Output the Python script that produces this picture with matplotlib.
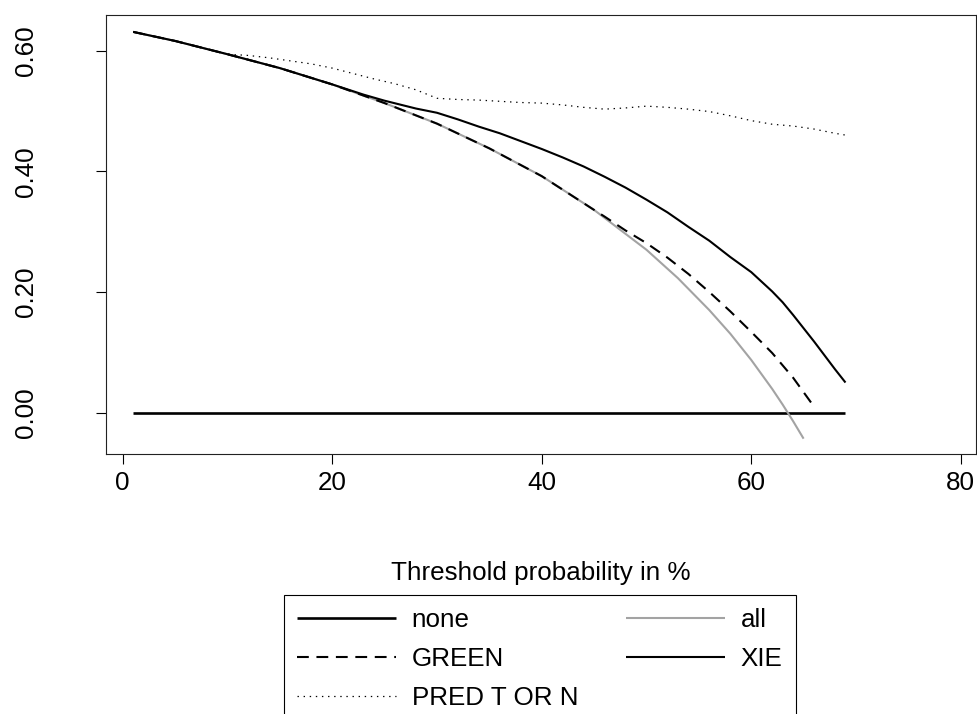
import matplotlib
matplotlib.use("Agg")
import matplotlib.pyplot as plt

plt.rcParams['font.family'] = ['Liberation Sans', 'DejaVu Sans']
plt.rcParams['lines.scale_dashes'] = False

# ---- data (threshold probability in %, net benefit) ----
none_t = [1, 69]
none_v = [0.0, 0.0]

all_t = [1, 5, 10, 15, 20, 25, 30, 35, 40, 45, 50, 53, 56, 58, 60, 62, 63, 64, 65]
all_v = [0.631, 0.616, 0.594, 0.571, 0.544, 0.513, 0.479, 0.438, 0.392, 0.336,
         0.270, 0.223, 0.170, 0.131, 0.0875, 0.0395, 0.0135, -0.014, -0.043]

green_t = [1, 5, 10, 15, 20, 25, 30, 35, 40, 45, 46, 48, 50, 52, 54, 56, 58, 60, 62, 64, 66]
green_v = [0.631, 0.616, 0.594, 0.571, 0.544, 0.513, 0.479, 0.438, 0.392, 0.336,
           0.325, 0.302, 0.281, 0.257, 0.230, 0.200, 0.168, 0.134, 0.099, 0.058, 0.010]

pred_t = [1, 5, 10, 12, 14, 16, 18, 20, 22, 24, 26, 28, 30, 32, 34, 36, 38, 40, 42, 44,
          46, 48, 50, 52, 54, 56, 58, 60, 62, 64, 66, 68, 69]
pred_v = [0.631, 0.616, 0.594, 0.592, 0.588, 0.583, 0.578, 0.571, 0.562, 0.553, 0.545,
          0.535, 0.521, 0.519, 0.518, 0.516, 0.514, 0.513, 0.510, 0.506, 0.503, 0.505,
          0.508, 0.506, 0.503, 0.499, 0.492, 0.484, 0.478, 0.475, 0.470, 0.463, 0.460]

xie_t = [1, 5, 10, 15, 20, 23, 25, 28, 30, 32, 34, 36, 38, 40, 42, 44, 46, 48, 50, 52,
         54, 56, 58, 60, 62, 63, 64, 66, 68, 69]
xie_v = [0.631, 0.616, 0.594, 0.571, 0.544, 0.527, 0.517, 0.504, 0.497, 0.486, 0.474,
         0.463, 0.450, 0.437, 0.423, 0.408, 0.391, 0.373, 0.353, 0.332, 0.308, 0.285,
         0.258, 0.233, 0.201, 0.183, 0.162, 0.118, 0.072, 0.050]

x_ticks = [0, 20, 40, 60, 80]
y_ticks = [0.0, 0.2, 0.4, 0.6]
y_ticklabels = ["0.00", "0.20", "0.40", "0.60"]
x_label = "Threshold probability in %"

W, H = 978, 714
fig = plt.figure(figsize=(W / 100, H / 100), dpi=100)
left, right, top, bottom = 106.5, 976, 15, 454
ax = fig.add_axes([left / W, 1 - bottom / H, (right - left) / W, (bottom - top) / H])

fs = 18.7
ax.plot(none_t, none_v, color='black', lw=1.9, solid_capstyle='butt', label='none')
ax.plot(all_t, all_v, color='#a3a3a3', lw=1.5, solid_capstyle='butt', label='all')
ax.plot(green_t, green_v, color='black', lw=1.5, linestyle=(0, (8.5, 5.5)), label='GREEN')
ax.plot(xie_t, xie_v, color='black', lw=1.5, solid_capstyle='butt', label='XIE')
ax.plot(pred_t, pred_v, color='black', lw=0.9, linestyle=(0, (1.0, 3.4)), label='PRED T OR N')

ax.set_xlim(-1.55, 81.46)
ax.set_ylim(-0.0684, 0.659)
ax.set_xticks(x_ticks)
ax.set_xticklabels([str(v) for v in x_ticks])
ax.set_yticks(y_ticks)
ax.set_yticklabels(y_ticklabels, rotation=90, va='center')
ax.tick_params(axis='both', direction='out', length=7.5, width=0.8, labelsize=fs, color='black')
ax.tick_params(axis='x', pad=5)
ax.tick_params(axis='y', pad=42)
for s in ax.spines.values():
    s.set_linewidth(0.8)
    s.set_color('#222222')
ax.set_xlabel(x_label, fontsize=fs, labelpad=47)

handles, labels = ax.get_legend_handles_labels()
order = ['none', 'GREEN', 'PRED T OR N', 'all', 'XIE']
hmap = dict(zip(labels, handles))
leg = fig.legend([hmap[k] for k in order], order, ncol=2, loc='upper left',
                 bbox_to_anchor=(284 / W, 1 - 595 / H), fontsize=fs, frameon=True,
                 fancybox=False, shadow=False, framealpha=1, edgecolor='black',
                 handlelength=3.8, handletextpad=0.62, columnspacing=1.84,
                 borderpad=0.5, labelspacing=0.58, borderaxespad=0)
leg.get_frame().set_linewidth(0.8)

fig.savefig("out.png", dpi=100)
